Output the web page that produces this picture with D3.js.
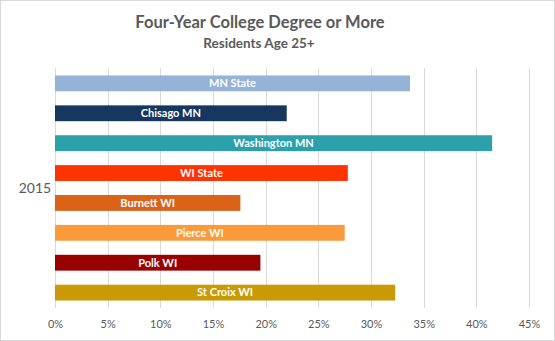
<!DOCTYPE html>
<meta charset="utf-8">
<style>
body { margin: 0; background: #fff; }
.title { font-family: Lato, "Open Sans", sans-serif; font-weight: bold; fill: #595959; }
.tick text { font-family: Lato, "Open Sans", sans-serif; font-size: 11px; fill: #595959; }
.barlabel { font-family: Lato, "Open Sans", sans-serif; font-weight: bold; font-size: 11px; fill: #fff; }
</style>
<body>
<svg id="chart"></svg>
<script src="https://d3js.org/d3.v7.min.js"></script>
<script>
// data
var places = ["MN State", "Chisago MN", "Washington MN", "WI State", "Burnett WI", "Pierce WI", "Polk WI", "St Croix WI"];
var values = [33.7, 22.0, 41.5, 27.8, 17.6, 27.5, 19.5, 32.3];
var colors = ["#95b3d7", "#17375e", "#2ca1ac", "#ff3300", "#da6317", "#fc9a3b", "#990000", "#c99a06"];
var ticks = [0, 5, 10, 15, 20, 25, 30, 35, 40, 45];

var width = 555, height = 341;
var margin = {top: 68, right: 26, bottom: 33, left: 55};

var svg = d3.select("#chart").attr("width", width).attr("height", height);

// chart border
svg.append("rect")
  .attr("x", 0.5).attr("y", 0.5)
  .attr("width", width - 1).attr("height", height - 1)
  .attr("fill", "#fff").attr("stroke", "#d9d9d9");

svg.append("text").attr("class", "title")
  .attr("x", 260).attr("y", 28).attr("text-anchor", "middle")
  .style("font-size", "16.5px")
  .text("Four-Year College Degree or More");
svg.append("text").attr("class", "title")
  .attr("x", 259).attr("y", 48).attr("text-anchor", "middle")
  .style("font-size", "13.5px")
  .text("Residents Age 25+");

var x = d3.scaleLinear().domain([0, 45]).range([margin.left, width - margin.right]);
var y = d3.scaleBand().domain(places)
  .range([margin.top, height - margin.bottom])
  .paddingInner(0.47).paddingOuter(0.25);

// gridlines
svg.append("g")
  .selectAll("line")
  .data(ticks)
  .enter().append("line")
  .attr("x1", function(d) { return Math.round(x(d)) + 0.5; })
  .attr("x2", function(d) { return Math.round(x(d)) + 0.5; })
  .attr("y1", margin.top)
  .attr("y2", height - margin.bottom)
  .attr("stroke", "#d9d9d9");

// x axis labels
var xAxis = svg.append("g")
  .attr("transform", "translate(0," + (height - margin.bottom) + ")")
  .call(d3.axisBottom(x).tickValues(ticks).tickSize(0).tickPadding(12)
    .tickFormat(function(d) { return d + "%"; }));
xAxis.select(".domain").remove();

// bars
svg.selectAll(".bar")
  .data(places)
  .enter().append("rect")
  .attr("class", "bar")
  .attr("x", x(0))
  .attr("y", function(d) { return y(d); })
  .attr("width", function(d, i) { return x(values[i]) - x(0); })
  .attr("height", y.bandwidth())
  .attr("fill", function(d, i) { return colors[i]; });

svg.selectAll(".barlabel")
  .data(places)
  .enter().append("text")
  .attr("class", "barlabel")
  .attr("x", function(d, i) { return (x(0) + x(values[i])) / 2; })
  .attr("y", function(d) { return y(d) + y.bandwidth() / 2; })
  .attr("dy", "0.35em")
  .attr("text-anchor", "middle")
  .text(function(d) { return d; });

// category label
svg.append("text")
  .attr("x", 35).attr("y", (margin.top + height - margin.bottom) / 2)
  .attr("dy", "0.35em")
  .attr("text-anchor", "middle")
  .style("font-family", "Lato, 'Open Sans', sans-serif")
  .style("font-size", "14px")
  .style("fill", "#595959")
  .text("2015");
</script>
</body>
